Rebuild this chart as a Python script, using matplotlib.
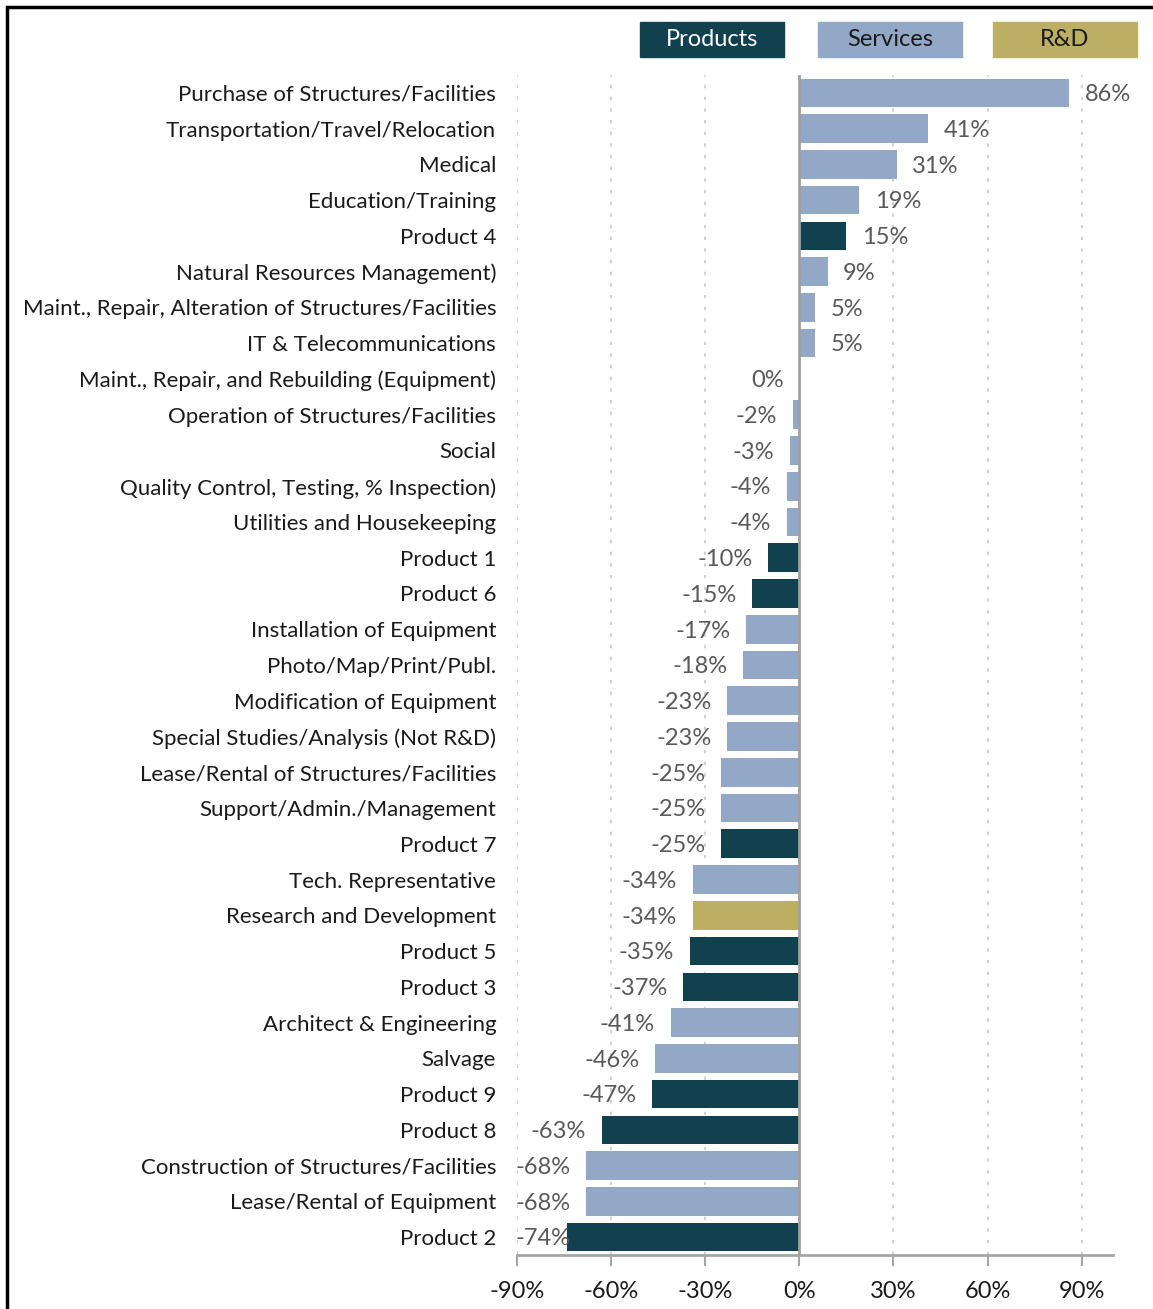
import matplotlib.pyplot as plt
from matplotlib.patches import Rectangle

plt.rcParams['font.family'] = ['Lato', 'DejaVu Sans']

categories = [
    'Purchase of Structures/Facilities', 'Transportation/Travel/Relocation', 'Medical',
    'Education/Training', 'Product 4', 'Natural Resources Management)',
    'Maint., Repair, Alteration of Structures/Facilities', 'IT & Telecommunications',
    'Maint., Repair, and Rebuilding (Equipment)', 'Operation of Structures/Facilities',
    'Social', 'Quality Control, Testing, % Inspection)', 'Utilities and Housekeeping',
    'Product 1', 'Product 6', 'Installation of Equipment', 'Photo/Map/Print/Publ.',
    'Modification of Equipment', 'Special Studies/Analysis (Not R&D)',
    'Lease/Rental of Structures/Facilities', 'Support/Admin./Management', 'Product 7',
    'Tech. Representative', 'Research and Development', 'Product 5', 'Product 3',
    'Architect & Engineering', 'Salvage', 'Product 9', 'Product 8',
    'Construction of Structures/Facilities', 'Lease/Rental of Equipment', 'Product 2',
]
values = [86, 41, 31, 19, 15, 9, 5, 5, 0, -2, -3, -4, -4, -10, -15, -17, -18,
          -23, -23, -25, -25, -25, -34, -34, -35, -37, -41, -46, -47, -63, -68, -68, -74]
groups = ['Products', 'Services', 'R&D']
colors = {'Products': '#11404F', 'Services': '#92A8C6', 'R&D': '#BCAE62'}
ticks = [-90, -60, -30, 0, 30, 60, 90]


def group_of(name):
    if name.startswith('Product '):
        return 'Products'
    if name == 'Research and Development':
        return 'R&D'
    return 'Services'


W, H = 1153, 1309
fig = plt.figure(figsize=(W / 100, H / 100), dpi=100)
ax = fig.add_axes([517 / W, 1 - 1255 / H, (1113 - 517) / W, (1255 - 75) / H])

y = list(range(len(categories)))
bar_colors = [colors[group_of(c)] for c in categories]
ax.barh(y, values, height=0.8, color=bar_colors, zorder=2)

for yi, v in zip(y, values):
    txt = f'{v}%'
    if v > 0:
        ax.text(v + 5, yi + 0.05, txt, ha='left', va='center', fontsize=17, color='#595959')
    elif v - 5 < -78:
        ax.text(-90.5, yi + 0.05, txt, ha='left', va='center', fontsize=17, color='#595959')
    else:
        ax.text(v - 5, yi + 0.05, txt, ha='right', va='center', fontsize=17, color='#595959')

ax.set_xlim(-90, 100)
ax.set_ylim(len(categories) - 0.5, -0.5)
ax.set_yticks(y)
ax.set_yticklabels(categories, fontsize=16, color='#1a1a1a')
ax.tick_params(axis='y', length=0, pad=15)
ax.set_xticks(ticks)
ax.set_xticklabels([f'{t}%' for t in ticks], fontsize=17, color='#1a1a1a')
ax.tick_params(axis='x', direction='out', length=8, width=1.5, color='#A6A6A6', pad=11)

for t in ticks:
    if t != 0:
        ax.axvline(t, color='#C8C8C8', linestyle=(0, (2, 5)), linewidth=1.2, zorder=0)
ax.axvline(0, color='#A0A0A0', linewidth=2, zorder=3)

for s in ['top', 'right', 'left']:
    ax.spines[s].set_visible(False)
ax.spines['bottom'].set_color('#A6A6A6')
ax.spines['bottom'].set_linewidth(2)

# legend boxes
legend_x = [640, 818, 993]
for g, x0 in zip(groups, legend_x):
    fig.patches.append(Rectangle((x0 / W, 1 - 57 / H), 144 / W, 35 / H,
                                 transform=fig.transFigure, color=colors[g]))
    fig.text((x0 + 72) / W, 1 - 40 / H, g, ha='center', va='center', fontsize=17,
             color='white' if g == 'Products' else '#1a1a1a')

# frame
fig.patches.append(Rectangle((7 / W, -0.01), 1.1, 1 - 7 / H + 0.01, transform=fig.transFigure,
                             fill=False, edgecolor='black', linewidth=2.5))

fig.savefig('out.png', dpi=100)
